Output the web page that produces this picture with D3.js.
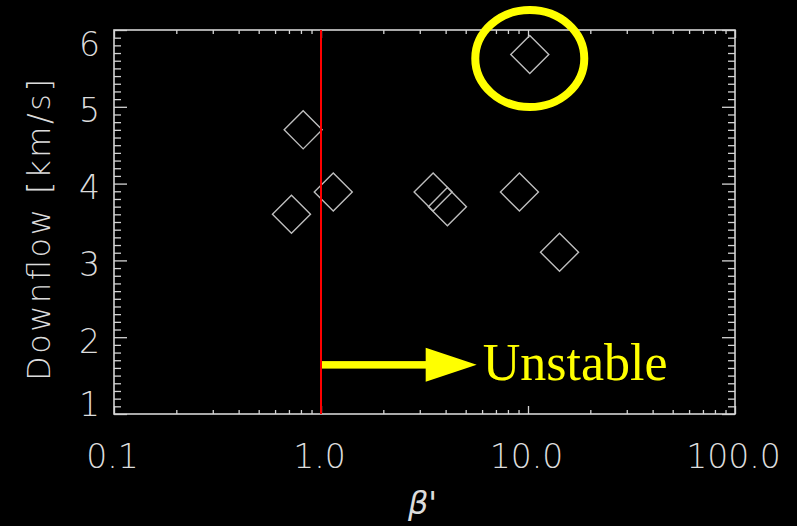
<!DOCTYPE html>
<html>
<head>
<meta charset="utf-8">
<script src="https://cdn.jsdelivr.net/npm/d3@7"></script>
<style>
  html, body { margin: 0; padding: 0; background: #000; }
  svg { display: block; }
</style>
</head>
<body>
<svg id="chart" width="797" height="526"></svg>
<script>
// ---- data ----
const betaValues     = [0.72, 0.82, 1.146, 3.48, 4.08, 9.09, 10.2, 14.2];
const downflowValues = [3.60, 4.70, 3.89, 3.89, 3.70, 3.89, 5.68, 3.105];
const xTickValues = [0.1, 1, 10, 100];
const xTickLabels = ["0.1", "1.0", "10.0", "100.0"];
const yTickValues = [1, 2, 3, 4, 5, 6];
const yTickLabels = ["1", "2", "3", "4", "5", "6"];
const xDomain = [0.1, 100];
const yDomain = [1, 6];
const thresholdBeta = 1.0;
const highlightIndex = 6;
const arrowY = 1.64, arrowFrom = 1.0, arrowTo = 5.65;
const xTitle = "β'";
const yTitle = "Downflow [km/s]";
const annotation = "Unstable";

// ---- layout ----
const L = 114, R = 735, T = 30, B = 414;
const axisColor = "#d4d4d4";
const tickFont = "'DejaVu Sans', sans-serif";

const svg = d3.select("#chart");
svg.append("rect").attr("width", 797).attr("height", 526).attr("fill", "#000");

const x = d3.scaleLog().domain(xDomain).range([L, R]);
const y = d3.scaleLinear().domain(yDomain).range([B, T]);

// minor tick values
const xMinor = [];
for (let d = 0.1; d < 100; d *= 10) for (let k = 2; k <= 9; k++) xMinor.push(+(d * k).toPrecision(3));
const yMinor = d3.range(10, 61).map(v => v / 10).filter(v => !yTickValues.includes(v));

function styleAxis(g) {
  g.selectAll(".domain").remove();
  g.selectAll("line").attr("stroke", axisColor).attr("stroke-width", 1.3);
}

// bottom axis
const gB = svg.append("g").attr("transform", `translate(0,${B})`);
gB.call(d3.axisBottom(x).tickValues(xMinor).tickSize(-4).tickFormat("")).call(styleAxis);
const gB2 = svg.append("g").attr("transform", `translate(0,${B})`);
gB2.call(d3.axisBottom(x).tickValues(xTickValues).tickSize(-8)
        .tickFormat((d, i) => xTickLabels[i])).call(styleAxis);
gB2.selectAll("text").attr("y", 54).attr("dy", null)
   .attr("fill", "#dcdcdc").attr("font-family", tickFont).attr("font-weight", 200)
   .attr("font-size", 33).attr("text-anchor", "middle").attr("dx", -2);

// top axis
svg.append("g").attr("transform", `translate(0,${T})`)
   .call(d3.axisTop(x).tickValues(xMinor).tickSize(-4).tickFormat("")).call(styleAxis);
svg.append("g").attr("transform", `translate(0,${T})`)
   .call(d3.axisTop(x).tickValues(xTickValues).tickSize(-8).tickFormat("")).call(styleAxis);

// left axis
svg.append("g").attr("transform", `translate(${L},0)`)
   .call(d3.axisLeft(y).tickValues(yMinor).tickSize(-7).tickFormat("")).call(styleAxis);
const gL = svg.append("g").attr("transform", `translate(${L},0)`);
gL.call(d3.axisLeft(y).tickValues(yTickValues).tickSize(-13)
        .tickFormat((d, i) => yTickLabels[i])).call(styleAxis);
gL.selectAll(".tick text")
   .attr("x", -14).attr("dy", null)
   .attr("y", d => Math.min(Math.max(y(d) + 15, T + 25), B + 1) - y(d))
   .attr("fill", "#dcdcdc").attr("font-family", tickFont).attr("font-weight", 200)
   .attr("font-size", 33).attr("text-anchor", "end");

// right axis
svg.append("g").attr("transform", `translate(${R},0)`)
   .call(d3.axisRight(y).tickValues(yMinor).tickSize(-7).tickFormat("")).call(styleAxis);
svg.append("g").attr("transform", `translate(${R},0)`)
   .call(d3.axisRight(y).tickValues(yTickValues).tickSize(-13).tickFormat("")).call(styleAxis);

// frame
svg.append("rect").attr("x", L).attr("y", T).attr("width", R - L).attr("height", B - T)
   .attr("fill", "none").attr("stroke", axisColor).attr("stroke-width", 1.6);

// axis titles
svg.append("text")
   .attr("transform", `translate(50,${(T + B) / 2 + 8}) rotate(-90)`)
   .attr("text-anchor", "middle").attr("fill", "#dcdcdc")
   .attr("font-family", tickFont).attr("font-weight", 200).attr("font-size", 32)
   .attr("textLength", 302).attr("lengthAdjust", "spacing")
   .text(yTitle);
svg.append("text")
   .attr("x", (L + R) / 2 - 2).attr("y", 514).attr("text-anchor", "middle")
   .attr("fill", "#dcdcdc").attr("font-family", tickFont).attr("font-weight", 200)
   .attr("font-style", "italic").attr("font-size", 32)
   .text(xTitle);

// points (diamonds)
const pts = betaValues.map((b, i) => ({ b, v: downflowValues[i] }));
const diamond = d3.symbol().type(d3.symbolSquare).size(724);
svg.append("g").selectAll("path").data(pts).join("path")
   .attr("d", diamond)
   .attr("transform", d => `translate(${x(d.b)},${y(d.v)}) rotate(45)`)
   .attr("fill", "none").attr("stroke", "#bdbdbd").attr("stroke-width", 1.4);

// threshold line
svg.append("line")
   .attr("x1", x(thresholdBeta)).attr("x2", x(thresholdBeta))
   .attr("y1", y(yDomain[1])).attr("y2", y(yDomain[0]))
   .attr("stroke", "#ff0000").attr("stroke-width", 2);

// arrow
const ax0 = x(arrowFrom) + 1, ax1 = x(arrowTo), ay = y(arrowY);
const headLen = 51, headHalf = 17, shaft = 7.5;
svg.append("rect").attr("x", ax0).attr("y", ay - shaft / 2)
   .attr("width", ax1 - headLen - ax0 + 2).attr("height", shaft).attr("fill", "#ffff00");
svg.append("path")
   .attr("d", `M${ax1},${ay} L${ax1 - headLen},${ay - headHalf} L${ax1 - headLen},${ay + headHalf} Z`)
   .attr("fill", "#ffff00");
svg.append("text")
   .attr("x", ax1 + 6).attr("y", ay + 15)
   .attr("fill", "#ffff00").attr("font-family", "'Liberation Serif', 'Times New Roman', serif")
   .attr("font-size", 52).text(annotation);

// highlight ellipse
const hp = pts[highlightIndex];
svg.append("ellipse")
   .attr("cx", x(hp.b)).attr("cy", y(hp.v) + 4)
   .attr("rx", 54.5).attr("ry", 48.5)
   .attr("fill", "none").attr("stroke", "#ffff00").attr("stroke-width", 8);
</script>
</body>
</html>
